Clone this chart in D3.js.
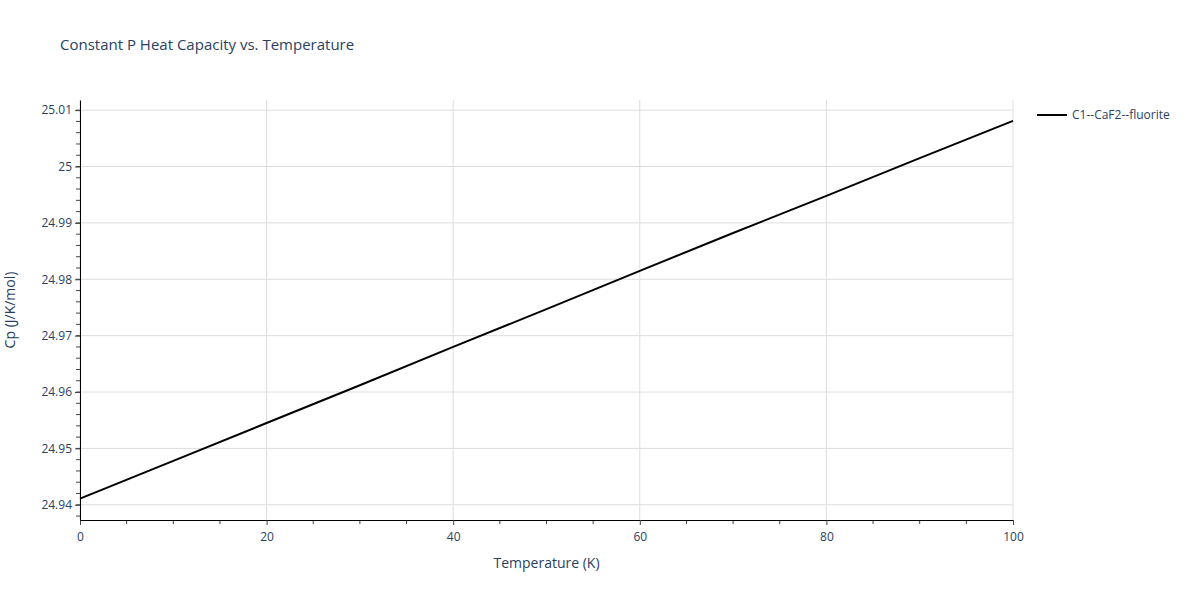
<!DOCTYPE html>
<html><head><meta charset="utf-8">
<script src="https://cdn.jsdelivr.net/npm/d3@7"></script>
<style>body{margin:0;background:#fff;font-family:"Open Sans",Arial,sans-serif;}</style>
</head><body><svg id="c" width="1200" height="600"></svg>
<script>
const temps = [0,10,20,30,40,50,60,70,80,90,100];
const cp = [24.9411,24.9478,24.9545,24.9612,24.9680,24.9747,24.9815,24.9882,24.9948,25.0015,25.0081];
const xTicks = [0,20,40,60,80,100];
const yTicks = [24.94,24.95,24.96,24.97,24.98,24.99,25.00,25.01];
const seriesName = "C1--CaF2--fluorite";

const svg = d3.select("#c");
const L=80,R=1013,T=100,B=520;
const x = d3.scaleLinear().domain([0,100]).range([L,R]);
const y = d3.scaleLinear().domain([24.9373,25.0118]).range([B,T]);
const txt="#2a3f5f";

svg.append("text").attr("x",60).attr("y",50).attr("font-size",15).attr("fill",txt).text("Constant P Heat Capacity vs. Temperature");

const g=svg.append("g");
xTicks.forEach(t=>g.append("line").attr("x1",x(t)).attr("x2",x(t)).attr("y1",T).attr("y2",B).attr("stroke","#dddddd"));
yTicks.forEach(t=>g.append("line").attr("x1",L).attr("x2",R).attr("y1",y(t)).attr("y2",y(t)).attr("stroke","#dddddd"));

// minor ticks
d3.range(0,101,5).forEach(t=>{ if(t%20) g.append("line").attr("x1",x(t)).attr("x2",x(t)).attr("y1",B).attr("y2",B+4).attr("stroke","#444");});
d3.range(24.938,25.0118,0.002).forEach(t=>{ g.append("line").attr("x1",L-4).attr("x2",L).attr("y1",y(t)).attr("y2",y(t)).attr("stroke","#444");});

const xa=svg.append("g").attr("transform",`translate(0,${B})`).call(d3.axisBottom(x).tickValues(xTicks).tickSize(5).tickSizeOuter(0).tickFormat(d3.format("d")));
const ya=svg.append("g").attr("transform",`translate(${L},0)`).call(d3.axisLeft(y).tickValues(yTicks).tickSize(5).tickSizeOuter(0).tickFormat(d=>String(+d.toFixed(2))));
[xa,ya].forEach(a=>{a.selectAll("text").attr("font-size",12).attr("fill",txt).attr("font-family","'Open Sans',Arial,sans-serif");a.select(".domain").attr("stroke","#000");a.selectAll(".tick line").attr("stroke","#444");});
xa.selectAll("text").attr("dy","1.1em");

svg.append("text").attr("x",(L+R)/2).attr("y",568).attr("text-anchor","middle").attr("font-size",14).attr("fill",txt).text("Temperature (K)");
svg.append("text").attr("transform",`translate(15,${(T+B)/2}) rotate(-90)`).attr("text-anchor","middle").attr("font-size",14).attr("fill",txt).text("Cp (J/K/mol)");

svg.append("path").datum(temps.map((t,i)=>[t,cp[i]])).attr("fill","none").attr("stroke","#000").attr("stroke-width",2)
 .attr("d",d3.line().x(d=>x(d[0])).y(d=>y(d[1])));

svg.append("line").attr("x1",1037).attr("x2",1067).attr("y1",115).attr("y2",115).attr("stroke","#000").attr("stroke-width",2);
svg.append("text").attr("x",1072).attr("y",119).attr("font-size",12).attr("fill",txt).text(seriesName);
</script></body></html>
